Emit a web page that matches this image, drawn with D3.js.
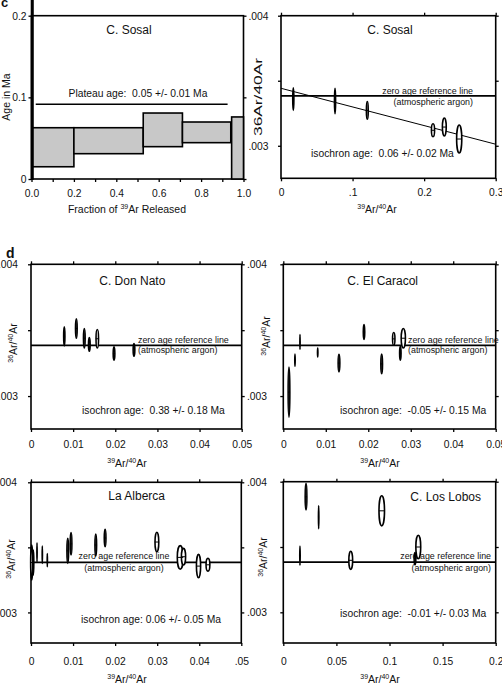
<!DOCTYPE html>
<html><head><meta charset="utf-8">
<script src="https://cdn.jsdelivr.net/npm/d3@7"></script>
<style>
body{margin:0;background:#fff}
svg{display:block}
text{font-family:"Liberation Sans",Arial,Helvetica,sans-serif;fill:#111;white-space:pre}
</style>
</head><body>
<svg id="c" width="502" height="685"></svg>
<script>
// ---------------- DATA ----------------
// Panel c (left): step-heating spectrum, C. Sosal
const stepFracStart = [0.0, 0.007, 0.2, 0.527, 0.712, 0.944];
const stepFracEnd   = [0.007, 0.2, 0.527, 0.712, 0.94, 1.0];
const stepAgeLo     = [0.0, 0.015, 0.031, 0.0396, 0.0445, 0.0];
const stepAgeHi     = [0.22, 0.0628, 0.0628, 0.0808, 0.0698, 0.076];
const plateauFrac   = [0.02, 0.925];
const plateauAge    = 0.0915;
const specXTicks    = [0,0.1,0.2,0.3,0.4,0.5,0.6,0.7,0.8,0.9,1.0];
const specXLabels   = ["0.0","","0.2","","0.4","","0.6","","0.8","","1.0"];
const specYTicks    = [0, 0.1, 0.2];
const specYLabels   = ["0", "0.1", "0.2"];

// atmospheric 36Ar/40Ar (zero age reference line)
const atmRatio = 0.003384;
const isoYTicks  = [0.003, 0.0035, 0.004];
const isoYLabels = [".003", "", ".004"];

// Panel c (right): isochron C. Sosal
const sosalX  = [0.0172, 0.0755, 0.1206, 0.2124, 0.2282, 0.249];
const sosalY  = [0.003359, 0.003344, 0.003272, 0.003119, 0.003144, 0.003052];
const sosalSX = [0.0008, 0.0008, 0.0013, 0.0022, 0.0027, 0.0036];
const sosalSY = [0.000087, 0.000098, 0.000068, 0.00005, 0.000069, 0.000108];
const sosalIsoLineX = [0, 0.3];
const sosalIsoLineY = [0.003442, 0.003012];
const sosalXTicks  = [0, 0.1, 0.2, 0.3];
const sosalXLabels = ["0", ".1", "0.2", "0.3"];

// Panel d: C. Don Nato
const donX  = [0.0079, 0.01076, 0.01265, 0.01384, 0.01573, 0.0197, 0.02444];
const donY  = [0.003453, 0.003513, 0.003439, 0.003392, 0.003435, 0.003323, 0.00335];
const donSX = [0.00015, 0.0002, 0.0002, 0.0002, 0.0003, 0.0002, 0.0002];
const donSY = [0.000072, 0.000074, 0.000074, 0.000052, 0.00007, 0.000051, 0.000048];

// Panel d: C. El Caracol
const carX  = [0.00134, 0.00275, 0.00393, 0.0081, 0.01311, 0.019, 0.02316, 0.026, 0.02755, 0.02825];
const carY  = [0.00303, 0.003272, 0.003411, 0.003331, 0.00325, 0.003486, 0.003244, 0.003434, 0.003325, 0.003439];
const carSX = [0.0002, 0.00005, 0.00003, 0.00005, 0.0002, 0.00017, 0.0002, 0.00028, 0.00017, 0.0005];
const carSY = [0.00019, 0.000046, 0.000056, 0.000034, 0.000067, 0.000057, 0.000074, 0.000048, 0.000053, 0.000074];

const smallXTicks  = [0, 0.01, 0.02, 0.03, 0.04, 0.05];
const smallXLabels = ["0", "0.01", "0.02", "0.03", "0.04", "0.05"];
const albXLabels   = ["0", "0.01", "0.02", "0.03", "0.04", ".05"];

// Panel d: La Alberca
const albX  = [0.00017, 0.00055, 0.00143, 0.00269, 0.00388, 0.00874, 0.00952, 0.0154, 0.01762, 0.02993, 0.03548, 0.03626, 0.03983, 0.04207];
const albY  = [0.003383, 0.003383, 0.003462, 0.003443, 0.003402, 0.003473, 0.003527, 0.003518, 0.003572, 0.003541, 0.003423, 0.003428, 0.003356, 0.003366];
const albSX = [0.00025, 0.00012, 0.00003, 0.00003, 0.00003, 0.0002, 0.0002, 0.0002, 0.0002, 0.00045, 0.0007, 0.0005, 0.0005, 0.00045];
const albSY = [0.000135, 0.000096, 0.000073, 0.000067, 0.000051, 0.000096, 0.000086, 0.000085, 0.000067, 0.000075, 0.00009, 0.000064, 0.00009, 0.000049];

// Panel d: C. Los Lobos
const lobX  = [0.0214, 0.0333, 0.0157, 0.0635, 0.0927, 0.1271, 0.124];
const lobY  = [0.003885, 0.003728, 0.003434, 0.003398, 0.003777, 0.0035, 0.003411];
const lobSX = [0.0008, 0.0002, 0.0002, 0.0018, 0.0026, 0.0023, 0.0008];
const lobSY = [0.000102, 0.000087, 0.000074, 0.000069, 0.000115, 0.00009, 0.000046];
const lobXTicks  = [0, 0.05, 0.1, 0.15, 0.2];
const lobXLabels = ["0", "0.05", "0.1", "0.15", "0.2"];

// ---------------- DRAWING ----------------
const svg = d3.select("#c");
const FONT = '"Liberation Sans",Arial,Helvetica,sans-serif';

function zipPts(xs, ys, sxs, sys) {
  return xs.map((v, i) => ({x: v, y: ys[i], sx: sxs[i], sy: sys[i]}));
}

function supLabel(t, a, b, size, supSize) {
  t.attr("font-size", size);
  t.append("tspan").attr("font-size", supSize).attr("dy", -4).text(a);
  t.append("tspan").attr("dy", 4).text("Ar/");
  t.append("tspan").attr("font-size", supSize).attr("dy", -4).text(b);
  t.append("tspan").attr("dy", 4).text("Ar");
}

function styleAxis(g) {
  g.attr("font-family", FONT);
  g.select(".domain").remove();
  g.selectAll(".tick line").attr("stroke", "#000").attr("stroke-width", 1.3);
  g.selectAll("text").attr("fill", "#111");
}

function addTicks(x, y, xt, xl, yt, yl, o) {
  const [L, R] = x.range();
  const [B, T] = y.range();
  const gb = svg.append("g").attr("transform", `translate(0,${B})`)
    .call(d3.axisBottom(x).tickValues(xt).tickFormat((d, i) => xl[i]).tickSize(3).tickSizeOuter(0));
  styleAxis(gb);
  gb.selectAll("text").attr("dy", null).attr("y", o.xLabBase - B).attr("font-size", 10.3);
  if (o.top) {
    const gt = svg.append("g").attr("transform", `translate(0,${T})`)
      .call(d3.axisTop(x).tickValues(xt).tickFormat("").tickSize(3).tickSizeOuter(0));
    styleAxis(gt);
  }
  const gl = svg.append("g").attr("transform", `translate(${L},0)`)
    .call(d3.axisLeft(y).tickValues(yt).tickFormat((d, i) => yl[i]).tickSize(3).tickSizeOuter(0));
  styleAxis(gl);
  gl.selectAll("text").attr("x", o.yLabEnd - L).attr("dy", "0.35em").attr("font-size", 10.3);
  const gr = svg.append("g").attr("transform", `translate(${R},0)`)
    .call(d3.axisRight(y).tickValues(yt).tickFormat("").tickSize(3).tickSizeOuter(0));
  styleAxis(gr);
}

function box(x, y) {
  const [L, R] = x.range();
  const [B, T] = y.range();
  svg.append("rect").attr("x", L).attr("y", T).attr("width", R - L).attr("height", B - T)
    .attr("fill", "none").attr("stroke", "#000").attr("stroke-width", 1.6);
}

// ---- Panel c left: spectrum ----
(function () {
  const x = d3.scaleLinear().domain([0, 1]).range([31.5, 243.5]);
  const y = d3.scaleLinear().domain([0, 0.2]).range([179, 15.7]);
  const steps = stepFracStart.map((s, i) => ({s, e: stepFracEnd[i], lo: stepAgeLo[i], hi: stepAgeHi[i]}));
  box(x, y);
  svg.append("g").selectAll("rect").data(steps).join("rect")
    .attr("x", d => x(d.s)).attr("width", d => x(d.e) - x(d.s))
    .attr("y", d => y(d.hi)).attr("height", d => y(d.lo) - y(d.hi))
    .attr("fill", (d, i) => i === 0 ? "#000" : "#c8c8c8")
    .attr("stroke", "#000").attr("stroke-width", 1.6);
  addTicks(x, y, specXTicks, specXLabels, specYTicks, specYLabels, {xLabBase: 197, yLabEnd: 26.5, top: false});
  svg.append("line").attr("x1", x(plateauFrac[0])).attr("x2", x(plateauFrac[1]))
    .attr("y1", y(plateauAge)).attr("y2", y(plateauAge)).attr("stroke", "#000").attr("stroke-width", 1.5);
  svg.append("text").attr("x", 138).attr("y", 96.5).attr("text-anchor", "middle").attr("font-size", 10.3)
    .text("Plateau age:  0.05 +/- 0.01 Ma");
  svg.append("text").attr("x", 129).attr("y", 34).attr("text-anchor", "middle").attr("font-size", 12)
    .text("C. Sosal");
  svg.append("text").attr("transform", "translate(10,97) rotate(-90)").attr("text-anchor", "middle")
    .attr("font-size", 10.5).text("Age in Ma");
  const xl = svg.append("text").attr("x", 127).attr("y", 213).attr("text-anchor", "middle").attr("font-size", 10.5);
  xl.append("tspan").text("Fraction of ");
  xl.append("tspan").attr("font-size", 7).attr("dy", -4).text("39");
  xl.append("tspan").attr("dy", 4).text("Ar Released");
  svg.append("text").attr("x", 1).attr("y", 7).attr("font-size", 13).attr("font-weight", "bold").text("c");
})();

// ---- generic isochron panel ----
function isoPanel(c) {
  const x = d3.scaleLinear().domain(c.xDom).range([c.L, c.R]);
  const y = d3.scaleLinear().domain(c.yDom).range([c.B, c.T]);
  box(x, y);
  addTicks(x, y, c.xTicks, c.xLabels, isoYTicks, isoYLabels, {xLabBase: c.xLabBase, yLabEnd: c.yLabEnd, top: true});
  // reference line
  svg.append("line").attr("x1", x(c.xDom[0])).attr("x2", x(c.xDom[1]))
    .attr("y1", y(atmRatio)).attr("y2", y(atmRatio)).attr("stroke", "#000").attr("stroke-width", 1.8);
  if (c.isoX) {
    svg.append("line").attr("x1", x(c.isoX[0])).attr("x2", x(c.isoX[1]))
      .attr("y1", y(c.isoY[0])).attr("y2", y(c.isoY[1])).attr("stroke", "#000").attr("stroke-width", 1);
  }
  svg.append("text").attr("x", c.refX).attr("y", c.refY1).attr("text-anchor", c.refAnchor)
    .attr("font-size", 8.9).text("zero age reference line");
  svg.append("text").attr("x", c.refX).attr("y", c.refY2).attr("text-anchor", c.refAnchor)
    .attr("font-size", 8.9).text("(atmospheric argon)");
  svg.append("text").attr("x", c.ageX).attr("y", c.ageY).attr("font-size", 10.3).text(c.ageText);
  svg.append("text").attr("x", c.titleX).attr("y", c.titleY).attr("text-anchor", "middle")
    .attr("font-size", 12).text(c.title);
  // axis titles
  const xt = svg.append("text").attr("x", c.xTitleX).attr("y", c.xTitleY).attr("text-anchor", "middle");
  supLabel(xt, "39", "40", 10.5, 7);
  const yt = svg.append("text").attr("transform", `translate(${c.yTitleX},${c.yTitleY}) rotate(-90)`)
    .attr("text-anchor", "middle");
  if (c.plainY) {
    yt.attr("font-size", 10).attr("textLength", 78).attr("lengthAdjust", "spacingAndGlyphs").text("36Ar/40Ar");
  } else {
    supLabel(yt, "36", "40", 10.5, 7);
  }
  // error ellipses
  const pts = c.pts;
  const g = svg.append("g");
  g.selectAll("ellipse").data(pts).join("ellipse")
    .attr("cx", d => x(d.x)).attr("cy", d => y(d.y))
    .attr("rx", d => x(d.x + d.sx) - x(d.x)).attr("ry", d => y(d.y - d.sy) - y(d.y))
    .attr("fill", "#fff").attr("stroke", "#000").attr("stroke-width", 1.6);
  g.selectAll("line").data(pts).join("line")
    .attr("x1", d => x(d.x - d.sx)).attr("x2", d => x(d.x + d.sx))
    .attr("y1", d => y(d.y)).attr("y2", d => y(d.y))
    .attr("stroke", "#000").attr("stroke-width", 1);
}

isoPanel({
  L: 281, R: 495.7, T: 15.7, B: 178.3, xDom: [0, 0.3], yDom: [0.00275, 0.004],
  xTicks: sosalXTicks, xLabels: sosalXLabels, xLabBase: 196.5, yLabEnd: 268.5,
  pts: zipPts(sosalX, sosalY, sosalSX, sosalSY), isoX: sosalIsoLineX, isoY: sosalIsoLineY,
  refX: 473, refAnchor: "end", refY1: 93.5, refY2: 104.5,
  ageText: "isochron age:  0.06 +/- 0.02 Ma", ageX: 311, ageY: 156.5,
  title: "C. Sosal", titleX: 390, titleY: 34,
  xTitleX: 377, xTitleY: 213, yTitleX: 262, yTitleY: 97, plainY: true
});

isoPanel({
  L: 31, R: 241.7, T: 264.3, B: 429, xDom: [0, 0.05], yDom: [0.00275, 0.004],
  xTicks: smallXTicks, xLabels: smallXLabels, xLabBase: 448, yLabEnd: 18,
  pts: zipPts(donX, donY, donSX, donSY),
  refX: 138, refAnchor: "start", refY1: 342.5, refY2: 353,
  ageText: "isochron age:  0.38 +/- 0.18 Ma", ageX: 82, ageY: 414.3,
  title: "C. Don Nato", titleX: 132.3, titleY: 285,
  xTitleX: 127, xTitleY: 467, yTitleX: 17, yTitleY: 343
});

isoPanel({
  L: 283.3, R: 495.7, T: 264.3, B: 429, xDom: [0, 0.05], yDom: [0.00275, 0.004],
  xTicks: smallXTicks, xLabels: smallXLabels, xLabBase: 448, yLabEnd: 267,
  pts: zipPts(carX, carY, carSX, carSY),
  refX: 408, refAnchor: "start", refY1: 342.5, refY2: 353,
  ageText: "isochron age:  -0.05 +/- 0.15 Ma", ageX: 340, ageY: 414.3,
  title: "C. El Caracol", titleX: 382.7, titleY: 285,
  xTitleX: 380, xTitleY: 467, yTitleX: 270, yTitleY: 336
});

isoPanel({
  L: 31, R: 241.3, T: 482.3, B: 643, xDom: [0, 0.05], yDom: [0.002765, 0.004],
  xTicks: smallXTicks, xLabels: albXLabels, xLabBase: 665, yLabEnd: 17,
  pts: zipPts(albX, albY, albSX, albSY),
  refX: 124, refAnchor: "middle", refY1: 559, refY2: 571,
  ageText: "isochron age: 0.06 +/- 0.05 Ma", ageX: 81, ageY: 622.7,
  title: "La Alberca", titleX: 136.7, titleY: 500,
  xTitleX: 127, xTitleY: 683, yTitleX: 15, yTitleY: 559
});

isoPanel({
  L: 283.3, R: 495.7, T: 481.7, B: 643, xDom: [0, 0.2], yDom: [0.002765, 0.004],
  xTicks: lobXTicks, xLabels: lobXLabels, xLabBase: 665, yLabEnd: 267,
  pts: zipPts(lobX, lobY, lobSX, lobSY),
  refX: 491, refAnchor: "end", refY1: 558.5, refY2: 570.5,
  ageText: "isochron age:  -0.01 +/- 0.03 Ma", ageX: 340, ageY: 617.3,
  title: "C. Los Lobos", titleX: 445.7, titleY: 500.7,
  xTitleX: 380, xTitleY: 683, yTitleX: 267, yTitleY: 557
});

svg.append("text").attr("x", 6).attr("y", 258.3).attr("font-size", 14).attr("font-weight", "bold").text("d");
</script>
</body></html>
